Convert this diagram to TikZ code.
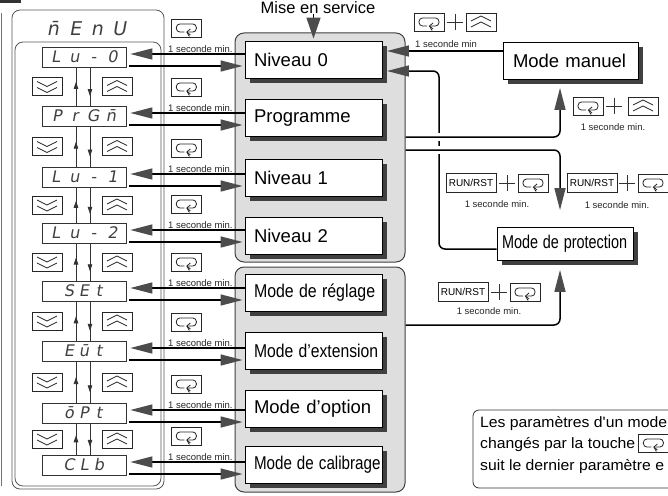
\documentclass[tikz,border=0pt]{standalone}
\usepackage{fontspec}
\usepackage{graphicx}
\setmainfont{Liberation Sans}
\newfontfamily\segfont[FakeSlant=0.18]{DejaVu Sans}
\newfontfamily\notefont[FakeStretch=1.05]{Liberation Sans}
\usetikzlibrary{arrows.meta,calc,shadows,decorations.markings}

% characters of a segment display, one fixed-width cell each
\newcommand\segtext[2]{\foreach \sgc in {#2}{\makebox[#1][c]{\sgc}}}

\begin{document}
\begin{tikzpicture}[x=1pt,y=-1pt,
  panel/.style={draw=black!75, line width=1pt, fill=black!13, rounded corners=9pt, inner sep=0pt},
  menupanel/.style={draw=black!65, line width=0.8pt, rounded corners=8pt, inner sep=0pt},
  dsp/.style={draw=black!80, line width=0.7pt, fill=white, minimum width=84pt, minimum height=20pt,
    inner sep=0pt, text=black!75, font=\segfont\fontsize{16}{16}\selectfont},
  modebox/.style={draw=black, line width=0.9pt, fill=white, minimum width=137pt, minimum height=37pt,
    text width=119pt, inner xsep=9pt, inner ysep=0pt, align=left, font=\fontsize{18.5}{20}\selectfont,
    drop shadow={shadow xshift=4.5pt, shadow yshift=-4.5pt, fill=black!75, opacity=1}},
  key/.style={draw=black!85, line width=0.7pt, fill=white, minimum width=30pt, minimum height=18pt, inner sep=0pt},
  loopkey/.style={key, path picture={
    \begin{scope}[shift={(path picture bounding box.center)}, line width=0.8pt, black!85]
      \draw[rounded corners=3.5pt] (-2,4) -- (-10,4) -- (-10,-4) -- (10,-4) -- (10,4) -- (2,4);
      \draw (4,1) -- (0.5,4) -- (4,7);
      \draw (0.5,4) -- (3,8.5);
    \end{scope}}},
  upkey/.style={key, path picture={
    \begin{scope}[shift={(path picture bounding box.center)}, line width=0.8pt, black!85]
      \draw (-10,-1) -- (0,-6) -- (10,-1);
      \draw (-10,5) -- (0,0) -- (10,5);
    \end{scope}}},
  downkey/.style={key, path picture={
    \begin{scope}[shift={(path picture bounding box.center)}, line width=0.8pt, black!85]
      \draw (-10,1) -- (0,6) -- (10,1);
      \draw (-10,-5) -- (0,0) -- (10,-5);
    \end{scope}}},
  runkey/.style={draw=black!85, line width=0.7pt, fill=white, minimum width=50pt, minimum height=19pt,
    inner sep=0pt, font=\fontsize{10}{10}\selectfont},
  plussign/.style={minimum width=16pt, minimum height=16pt, inner sep=0pt, path picture={
    \draw[line width=0.7pt, black!80]
      (path picture bounding box.west) -- (path picture bounding box.east)
      (path picture bounding box.north) -- (path picture bounding box.south);}},
  sec/.style={font=\fontsize{9.5}{10}\selectfont, text=black!85, inner sep=0pt},
  notetext/.style={font=\notefont\fontsize{15}{16}\selectfont, inner sep=0pt, anchor=base west},
  bigarr/.style={line width=1.5pt, -{Triangle[length=22pt,width=11pt,fill=black!70,color=black!70]}},
  smallarr/.style={line width=0.8pt, black!80, postaction={decorate},
    decoration={markings, mark=at position #1 with {\arrow{Triangle[length=7pt,width=4.5pt]}}}},
]
\useasboundingbox (0,0) rectangle (668,495);

% page rule and header fragment
\fill[black!80] (0,0) rectangle (21,3);
\draw[black!55, line width=0.6pt] (1.5,13) -- (1.5,486);

% operating-level groups
\node[panel, minimum width=170pt, minimum height=229pt] (g1) at (320,147.5) {};
\node[panel, minimum width=170pt, minimum height=225pt] (g2) at (320,379.5) {};

% mode boxes
\node[modebox] (n1) at (313.5,60) {Niveau 0};
\node[modebox] (n2) at (313.5,118) {Programme};
\node[modebox] (n3) at (313.5,178) {Niveau 1};
\node[modebox] (n4) at (313.5,236) {Niveau 2};
\node[modebox] (n5) at (313.5,293) {\scalebox{0.86}[1]{Mode de réglage}};
\node[modebox] (n6) at (313.5,351) {\scalebox{0.85}[1]{Mode d'extension}};
\node[modebox] (n7) at (313.5,409) {Mode d'option};
\node[modebox] (n8) at (313.5,465) {\scalebox{0.82}[1]{Mode de calibrage}};

\node[modebox, minimum width=135pt, text width=115pt, inner xsep=10pt] (mm) at (570.5,61) {Mode manuel};
\node[modebox, minimum width=136pt, minimum height=33pt, text width=126pt, inner xsep=5pt] (mp) at (565,244)
  {\scalebox{0.78}[1]{Mode de protection}};

% power-on entry
\node[font=\fontsize{16.5}{17}\selectfont, inner sep=0pt, anchor=base] (mes) at (318,13.5) {Mise en service};
\draw[line width=1.5pt, -{Triangle[length=21pt,width=14pt,fill=black!70,color=black!70]}, shorten >=2.5pt]
  (mes.south -| n1.north) -- (n1.north);

% menu panel with the parameter displays
\node[menupanel, minimum width=152pt, minimum height=479pt] (menu) at (88,249.5) {};
\node[menupanel, minimum width=146pt, minimum height=444pt] (menulist) at (88,264) {};
\node[font=\segfont\fontsize{19}{19}\selectfont, text=black!75, inner sep=0pt] (title) at (86,29)
  {\segtext{22pt}{{\=n},E,n,U}};

\node[dsp] (d1) at (84,57) {\segtext{19pt}{L,u,-,0}};
\node[dsp] (d2) at (84,116) {\segtext{18pt}{P,r,G,{\=n}}};
\node[dsp] (d3) at (84,177) {\segtext{19pt}{L,u,-,1}};
\node[dsp] (d4) at (84,233) {\segtext{19pt}{L,u,-,2}};
\node[dsp] (d5) at (84,291) {\segtext{15pt}{S,E,t}};
\node[dsp] (d6) at (84,351) {\segtext{15pt}{E,{\=u},t}};
\node[dsp] (d7) at (84,413) {\segtext{15pt}{{\=o},P,t}};
\node[dsp] (d8) at (84,465) {\segtext{15pt}{C,L,b}};

% scrolling between displays
\foreach \i in {1,...,7}{
  \pgfmathtruncatemacro\j{\i+1}
  \coordinate (ua\i) at ($(d\j.north)+(-8,0)$);
  \draw[smallarr=0.62] (ua\i) -- (ua\i |- d\i.south);
  \coordinate (da\i) at ($(d\i.south)+(6,0)$);
  \draw[smallarr=0.75] (da\i) -- (da\i |- d\j.north);
  \coordinate (mid\i) at ($(d\i.south)!0.5!(d\j.north)$);
  \node[downkey] (bd\i) at ($(mid\i)+(-37,0)$) {};
  \node[upkey] (bu\i) at ($(mid\i)+(33,0)$) {};
}

% display <-> mode transitions
\foreach \i in {1,...,8}{
  \coordinate (la\i) at ($(d\i.east)+(0,-3)$);
  \coordinate (ra\i) at ($(d\i.east)+(3,9)$);
  \draw[bigarr, shorten >=4pt] (n\i.west |- la\i) -- (la\i);
  \draw[bigarr, shorten >=2pt] (ra\i) -- (n\i.west |- ra\i);
  \node[sec, anchor=south] (s\i) at ($(la\i)+(74,-1.5)$) {1 seconde min.};
  \node[loopkey] (k\i) at ($(la\i)+(60,-26)$) {};
}

% routing columns
\coordinate (vx) at (439,0);
\coordinate (vy) at (560,0);
\coordinate (h1) at ($(n2.center)+(0,19)$);
\coordinate (h2) at ($(n2.center)+(0,32)$);
\coordinate (h3) at ($(n5.center)+(0,32)$);

% manual mode -> level 0
\coordinate (m1) at ($(n1.east)+(4.5,-9)$);
\draw[bigarr] (mm.west |- m1) -- (m1);
\node[sec, anchor=south] (sm) at (446,47.5) {1 seconde min};
\node[loopkey] (km1) at (429,22) {};
\node[plussign] (pm1) at (455,22) {};
\node[upkey] (um1) at (481,22) {};

% protection mode -> level 0
\coordinate (ps) at ($(mp.west)+(0,5)$);
\coordinate (pe) at ($(n1.east)+(4.5,11)$);
\draw[bigarr, rounded corners=6pt] (ps) -- (ps -| vx) -- (vx |- pe) -- (pe);
\fill[white] ($(vx |- h1)+(-3,-4)$) rectangle ($(vx |- h1)+(3,4)$);
\fill[white] ($(vx |- h2)+(-3,-4)$) rectangle ($(vx |- h2)+(3,4)$);

% levels -> manual mode / protection mode
\draw[bigarr, rounded corners=6pt, shorten >=8pt] (g1.east |- h1) -- (vy |- h1) -- (vy |- mm.south);
\draw[bigarr, rounded corners=6pt, shorten >=17pt] (g1.east |- h2) -- (vy |- h2) -- (vy |- mp.north);
\draw[bigarr, rounded corners=6pt, shorten >=9pt] (g2.east |- h3) -- (vy |- h3) -- (vy |- mp.south);

% key combinations
\node[loopkey] (km2) at (588,106) {};
\node[plussign] (pm2) at (614,106) {};
\node[upkey] (um2) at (643,106) {};
\node[sec] (sm2) at (613,127) {1 seconde min.};

\node[runkey] (r1) at (471,183) {RUN/RST};
\node[plussign] (pr1) at (507,183) {};
\node[loopkey] (kr1) at (533,183) {};
\node[sec] (sr1) at (497,204) {1 seconde min.};

\node[runkey] (r2) at (592,183) {RUN/RST};
\node[plussign] (pr2) at (627,183) {};
\node[loopkey] (kr2) at (653,183) {};
\node[sec] (sr2) at (617,205) {1 seconde min.};

\node[runkey] (r3) at (463,292) {RUN/RST};
\node[plussign] (pr3) at (499,292) {};
\node[loopkey] (kr3) at (525,292) {};
\node[sec] (sr3) at (489,311) {1 seconde min.};

% note
\node[draw=black!80, line width=0.8pt, rounded corners=6pt, minimum width=240pt, minimum height=78pt, inner sep=0pt]
  (note) at (593,449) {};
\node[notetext] (nt1) at (480,427) {Les paramètres d'un mode};
\node[notetext] (nt2) at (480,448) {changés par la touche};
\node[loopkey] (nk) at ($(nt2.base east)+(18,-5)$) {};
\node[notetext] (nt3) at (480,470) {suit le dernier paramètre e};
\end{tikzpicture}
\end{document}
